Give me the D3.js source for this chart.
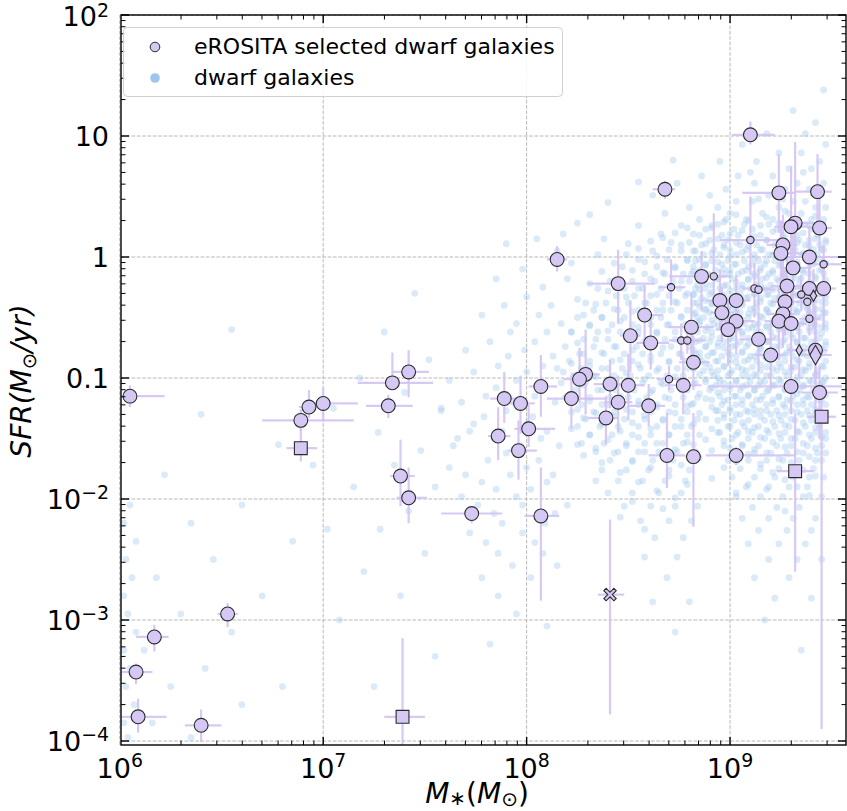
<!DOCTYPE html>
<html><head><meta charset="utf-8">
<script src="https://cdn.jsdelivr.net/npm/d3@7"></script>
<style>body{margin:0;background:#fff}svg{display:block}</style>
</head><body><svg id="c" width="847" height="811"></svg>
<script>
// ---------- DATA (log10 values) ----------
// eROSITA selected dwarf galaxies
const erLogM   = [6.05,6.89,6.93,7.00,6.89,7.34,7.42,7.32,7.38,7.42,6.53,6.17,6.08,6.09,6.40,7.39,8.15,8.45,7.89,7.97,8.07,8.01,7.86,7.96,7.73,8.07,8.22,8.71,8.58,8.51,8.61,8.81,8.76,8.79,8.82,8.29,8.26,8.41,8.50,8.70,8.77,8.45,8.60,8.39,8.68,8.86,8.92,8.95,9.03,8.96,9.03,8.99,9.12,9.14,9.10,9.24,9.43,9.32,9.30,9.44,9.10,9.26,9.25,9.39,9.46,9.31,9.28,9.46,9.39,9.35,9.38,9.41,9.27,9.26,9.24,9.30,9.39,9.14,9.20,9.34,9.42,9.42,9.30,9.44,9.45,8.69,8.82,9.03,9.32,8.41];
const erLogSFR = [-1.15,-1.35,-1.24,-1.21,-1.58,-1.04,-0.95,-1.23,-1.81,-1.99,-2.95,-3.14,-3.43,-3.80,-3.87,-3.80,-0.02,-0.22,-1.17,-1.21,-1.07,-1.42,-1.48,-1.60,-2.12,-2.14,-1.17,-0.25,-0.48,-0.65,-0.71,-0.58,-0.69,-0.69,-0.87,-0.97,-1.01,-1.05,-1.06,-1.01,-1.06,-1.20,-1.23,-1.33,0.56,-0.16,-0.16,-0.36,-0.36,-0.46,-0.53,-0.60,-0.26,-0.27,1.01,0.53,0.54,0.28,0.25,0.24,0.14,0.10,0.03,0.00,-0.06,-0.09,-0.24,-0.26,-0.26,-0.31,-0.37,-0.32,-0.37,-0.47,-0.53,-0.55,-0.51,-0.68,-0.81,-0.77,-0.77,-0.81,-1.07,-1.12,-1.32,-1.64,-1.65,-1.64,-1.77,-2.79];
// error bars: [low, high] in log10
const erMassErr = [[6.01,6.22],[6.70,7.15],[6.88,6.98],[6.94,7.17],[6.82,6.97],[7.17,7.54],[7.34,7.52],[7.21,7.44],[7.33,7.45],[7.36,7.51],[6.48,6.58],[6.08,6.24],[6.01,6.16],[6.01,6.23],[6.32,6.50],[7.30,7.50],[8.10,8.20],[8.30,8.63],[7.82,7.97],[7.92,8.04],[8.01,8.15],[7.94,8.14],[7.81,7.92],[7.91,8.05],[7.58,7.88],[7.99,8.16],[8.10,8.39],[8.65,8.78],[8.55,8.67],[8.46,8.56],[8.54,8.70],[8.70,8.92],[8.70,8.85],[8.74,8.88],[8.75,8.90],[8.22,8.36],[8.18,8.32],[8.33,8.50],[8.44,8.58],[8.64,8.76],[8.68,8.86],[8.38,8.52],[8.50,8.68],[8.30,8.45],[8.62,8.73],[8.70,9.00],[8.85,8.98],[8.88,9.05],[8.95,9.10],[8.90,9.02],[8.96,9.12],[8.93,9.06],[9.06,9.20],[9.09,9.22],[9.01,9.22],[9.06,9.32],[9.32,9.50],[9.24,9.47],[9.22,9.40],[9.38,9.50],[8.95,9.28],[9.18,9.33],[9.20,9.35],[9.22,9.57],[9.40,9.55],[9.25,9.40],[9.20,9.36],[9.40,9.52],[9.32,9.45],[9.30,9.41],[9.33,9.43],[9.36,9.46],[9.20,9.34],[9.18,9.32],[9.17,9.30],[9.22,9.38],[9.34,9.44],[9.05,9.22],[9.12,9.27],[9.28,9.40],[9.36,9.48],[9.35,9.50],[8.89,9.55],[9.35,9.53],[9.38,9.52],[8.60,8.78],[8.78,8.86],[8.88,9.32],[9.23,9.41],[8.35,8.48]];
const erSfrErr = [[-1.24,-1.06],[-1.44,-1.26],[-1.33,-1.10],[-1.36,-1.08],[-1.69,-1.28],[-1.08,-0.79],[-1.16,-0.77],[-1.33,-1.14],[-2.06,-1.51],[-2.20,-1.74],[-3.06,-2.86],[-3.26,-3.04],[-3.53,-3.36],[-3.93,-3.65],[-4.01,-3.74],[-4.20,-3.15],[-0.12,0.09],[-0.55,0.06],[-1.37,-0.95],[-1.46,-0.98],[-1.32,-0.81],[-1.57,-1.22],[-1.68,-1.24],[-1.84,-1.35],[-2.20,-2.06],[-2.84,-1.74],[-1.42,-0.98],[-0.40,-0.02],[-0.74,-0.23],[-0.95,-0.36],[-0.93,-0.49],[-0.85,-0.30],[-0.85,-0.55],[-0.80,-0.58],[-1.10,-0.65],[-1.30,-0.60],[-1.20,-0.75],[-1.25,-0.85],[-1.35,-0.80],[-1.10,-0.90],[-1.30,-0.82],[-1.45,-0.98],[-1.40,-1.05],[-1.55,-1.15],[0.48,0.63],[-0.45,0.05],[-0.40,0.36],[-0.60,-0.10],[-0.55,-0.15],[-0.70,-0.25],[-0.80,-0.30],[-0.90,-0.35],[-0.50,-0.05],[-0.45,-0.10],[0.93,1.12],[0.20,0.85],[0.25,0.85],[0.00,0.95],[-0.10,0.75],[0.05,0.60],[-0.15,0.50],[-0.20,0.35],[-0.25,0.30],[-0.30,0.25],[-0.20,0.10],[-0.40,0.20],[-0.55,0.05],[-0.60,0.00],[-0.50,-0.05],[-0.45,-0.15],[-0.50,-0.25],[-0.60,-0.10],[-0.65,-0.10],[-0.75,-0.20],[-0.85,-0.25],[-0.90,-0.20],[-0.65,-0.40],[-0.95,-0.45],[-1.10,-0.55],[-1.00,-0.55],[-1.05,-0.50],[-1.30,-0.40],[-1.30,-0.85],[-1.50,-0.90],[-3.90,-1.10],[-1.91,-1.29],[-2.23,-1.29],[-1.72,-1.57],[-2.60,-1.30],[-3.78,-2.17]];
// marker class: c = circle, cs = small circle, s = square, d = diamond, ds = small diamond, x = cross
const erKind = ["c","c","c","c","s","c","c","c","c","c","c","c","c","c","c","s","c","c","c","c","c","c","c","c","c","c","c","cs","c","c","c","c","cs","cs","c","c","c","c","c","cs","c","c","c","c","c","c","cs","c","c","c","c","c","cs","cs","c","c","c","c","c","c","cs","c","c","c","cs","c","c","c","c","cs","cs","ds","c","c","c","c","cs","c","c","ds","c","d","c","c","s","c","c","c","s","x"];

// background dwarf galaxies, rows: [log SFR, [log M*, ...]]
const bgUpper = [
[1.38,[9.46]],[1.21,[9.31]],[1.11,[9.42]],[1.02,[9.18,9.37]],[0.93,[9.06,9.47]],[0.86,[9.24,9.35]],
[0.79,[8.95,9.13,9.44]],[0.73,[9.29,9.40]],[0.67,[8.86,9.04,9.21]],[0.61,[8.74,9.12,9.33,9.46]],
[0.56,[8.98,9.27,9.39]],[0.51,[8.62,8.90,9.19,9.44]],[0.46,[9.03,9.11,9.31,9.37]],
[0.41,[8.80,8.94,9.24,9.42,9.47]],[0.36,[8.68,9.00,9.16,9.29,9.35]],[0.31,[8.85,8.98,9.08,9.21,9.40,9.46]],
[0.26,[8.55,8.76,8.91]],[0.19,[8.66,8.82,8.18]],[0.35,[8.31]],[0.11,[8.50,7.90]],[0.02,[8.35]],[-0.05,[8.22]],
[0.45,[8.40]],[0.62,[8.55]],[0.80,[8.72]],[0.28,[8.25]],[0.15,[8.05,8.38]],[0.05,[8.15]],[0.70,[9.10,9.36]],[0.48,[9.14,9.26]]];
const bgCore = [
[0.27,[8.94,9.07,9.19,9.28,9.37,9.45]],[0.23,[8.88,9.02,9.11,9.23,9.31,9.41,9.46]],
[0.18,[8.96,9.04,9.15,9.26,9.33,9.43]],[0.14,[8.90,8.99,9.09,9.18,9.25,9.34,9.39,9.47]],
[0.10,[8.86,8.97,9.05,9.13,9.22,9.28,9.37,9.44]],[0.06,[8.92,9.00,9.08,9.16,9.26,9.32,9.41,9.46]],
[0.02,[8.87,8.95,9.03,9.12,9.19,9.27,9.35,9.43]],[-0.03,[8.83,8.91,8.99,9.07,9.14,9.22,9.30,9.38,9.45]],
[-0.06,[8.88,8.96,9.02,9.11,9.17,9.25,9.33,9.41,9.47]],[-0.11,[8.85,8.93,9.00,9.08,9.15,9.21,9.29,9.36,9.44]],
[-0.14,[8.81,8.89,8.97,9.04,9.12,9.19,9.26,9.31,9.39,9.46]],[-0.18,[8.86,8.94,9.01,9.09,9.16,9.23,9.29,9.35,9.42]],
[-0.23,[8.84,8.91,8.98,9.06,9.13,9.20,9.27,9.34,9.40,9.47]],[-0.26,[8.88,8.95,9.03,9.10,9.17,9.24,9.31,9.37,9.44]],
[-0.31,[8.82,8.90,8.97,9.05,9.12,9.19,9.26,9.33,9.39,9.46]],[-0.34,[8.86,8.93,9.00,9.08,9.15,9.22,9.29,9.36,9.42]],
[-0.38,[8.84,8.91,8.99,9.06,9.13,9.20,9.27,9.34,9.41,9.47]],[-0.43,[8.88,8.96,9.03,9.10,9.18,9.25,9.32,9.38,9.45]],
[-0.46,[8.83,8.90,8.98,9.05,9.12,9.19,9.26,9.33,9.40,9.46]],[-0.50,[8.87,8.94,9.01,9.09,9.16,9.23,9.30,9.37,9.43]],
[-0.55,[8.85,8.92,8.99,9.07,9.14,9.21,9.28,9.35,9.41,9.47]],[-0.58,[8.89,8.96,9.04,9.11,9.18,9.25,9.32,9.39,9.45]],
[-0.62,[8.84,8.91,8.98,9.06,9.13,9.20,9.27,9.34,9.42]],[-0.67,[8.87,8.95,9.02,9.09,9.16,9.23,9.31,9.37,9.44]],
[-0.70,[8.83,8.90,8.97,9.05,9.12,9.19,9.26,9.33,9.40,9.47]],[-0.74,[8.88,8.94,9.01,9.08,9.15,9.22,9.29,9.36,9.43]],
[-0.79,[8.85,8.92,8.99,9.06,9.14,9.21,9.28,9.35,9.41,9.46]],[-0.82,[8.89,8.96,9.03,9.10,9.17,9.24,9.31,9.38,9.44]],
[-0.86,[8.86,8.93,9.00,9.07,9.13,9.20,9.27,9.34,9.42]],[-0.91,[8.90,8.97,9.04,9.11,9.18,9.25,9.32,9.39,9.46]],
[-0.94,[8.87,8.94,9.01,9.08,9.15,9.23,9.30,9.37,9.43]],[-0.98,[8.92,8.99,9.06,9.13,9.20,9.28,9.35,9.42]],
[-1.03,[8.88,8.95,9.03,9.10,9.17,9.25,9.33,9.40,9.46]],[-1.06,[8.93,9.00,9.08,9.14,9.22,9.29,9.36,9.44]],
[-1.10,[8.90,8.97,9.05,9.12,9.19,9.27,9.34,9.41]],[-1.15,[8.95,9.02,9.09,9.16,9.24,9.31,9.38,9.45]],
[-1.18,[8.91,8.99,9.06,9.13,9.21,9.28,9.36,9.43]],[-1.22,[8.96,9.03,9.11,9.18,9.26,9.33,9.40,9.47]],
[-1.27,[8.93,9.00,9.08,9.15,9.23,9.30,9.38,9.44]],[-1.30,[8.97,9.05,9.12,9.20,9.27,9.35,9.42]],
[-1.35,[8.94,9.02,9.09,9.17,9.25,9.32,9.40,9.46]],[-1.40,[8.99,9.07,9.14,9.22,9.29,9.37,9.44]],
[-1.45,[8.95,9.04,9.11,9.19,9.27,9.34,9.42]],[-1.50,[9.01,9.09,9.17,9.25,9.32,9.40,9.47]],
[-1.56,[8.97,9.06,9.14,9.23,9.30,9.38,9.45]],[-1.62,[9.03,9.12,9.20,9.28,9.36,9.43]],
[-1.68,[8.99,9.09,9.18,9.26,9.34,9.42]],[-1.75,[9.05,9.15,9.24,9.33,9.41]],
[-1.82,[9.01,9.12,9.22,9.31,9.39,9.46]],[-1.90,[9.08,9.19,9.29,9.38]],[-1.98,[9.03,9.15,9.26,9.36,9.45]],
[-2.07,[9.11,9.23,9.34]],[-2.16,[9.06,9.19,9.31,9.42]],[-2.26,[9.14,9.28,9.40]],
[-2.37,[9.09,9.24,9.37]],[-2.50,[9.19,9.33,9.45]],[-2.65,[9.12,9.29]],[-2.82,[9.22,9.40]],
[-3.00,[9.17]],[-3.25,[9.35]]];
// columns: [log M*, [log SFR, ...]]
const bgCoreCols = [
[8.82,[0.05,-0.12,-0.31,-0.47,-0.58,-0.77,-0.92,-1.05,-1.21,-1.38,-1.55]],
[8.85,[0.18,-0.02,-0.19,-0.27,-0.41,-0.53,-0.69,-0.83,-0.97,-1.13,-1.29,-1.47,-1.66]],
[8.88,[0.11,-0.07,-0.22,-0.36,-0.44,-0.61,-0.74,-0.88,-1.01,-1.17,-1.34,-1.51]],
[8.91,[0.24,0.03,-0.15,-0.29,-0.39,-0.52,-0.66,-0.79,-0.95,-1.08,-1.24,-1.42,-1.60,-1.83]],
[8.94,[0.15,-0.04,-0.18,-0.33,-0.48,-0.57,-0.71,-0.86,-1.00,-1.12,-1.27,-1.45]],
[8.97,[0.29,0.08,-0.10,-0.24,-0.37,-0.50,-0.63,-0.75,-0.90,-1.04,-1.19,-1.33,-1.52,-1.74]],
[9.00,[0.19,0.01,-0.14,-0.28,-0.43,-0.55,-0.68,-0.81,-0.96,-1.09,-1.25,-1.40,-1.58]],
[9.03,[0.35,0.12,-0.06,-0.21,-0.35,-0.46,-0.60,-0.73,-0.87,-1.02,-1.15,-1.30,-1.47,-1.69,-1.95]],
[9.06,[0.22,0.04,-0.12,-0.26,-0.40,-0.52,-0.64,-0.78,-0.93,-1.07,-1.22,-1.37,-1.55]],
[9.09,[0.30,0.09,-0.08,-0.19,-0.33,-0.47,-0.59,-0.72,-0.85,-0.99,-1.14,-1.28,-1.44,-1.63,-1.88]],
[9.12,[0.17,-0.01,-0.16,-0.30,-0.42,-0.56,-0.69,-0.82,-0.97,-1.10,-1.26,-1.41,-1.59]],
[9.15,[0.26,0.06,-0.09,-0.23,-0.37,-0.49,-0.62,-0.76,-0.89,-1.03,-1.18,-1.32,-1.49,-1.71]],
[9.18,[0.33,0.14,-0.03,-0.17,-0.31,-0.44,-0.57,-0.70,-0.84,-0.98,-1.11,-1.27,-1.43,-1.62,-1.92]],
[9.21,[0.21,0.02,-0.13,-0.27,-0.39,-0.53,-0.66,-0.79,-0.92,-1.06,-1.21,-1.36,-1.53,-1.78]],
[9.24,[0.28,0.10,-0.07,-0.20,-0.34,-0.48,-0.60,-0.74,-0.88,-1.01,-1.16,-1.31,-1.46,-1.67]],
[9.27,[0.38,0.16,-0.01,-0.15,-0.28,-0.42,-0.55,-0.68,-0.81,-0.95,-1.09,-1.24,-1.39,-1.57,-1.84,-2.10]],
[9.30,[0.24,0.05,-0.11,-0.25,-0.38,-0.51,-0.64,-0.77,-0.91,-1.05,-1.19,-1.34,-1.50,-1.70]],
[9.33,[0.31,0.12,-0.04,-0.18,-0.32,-0.45,-0.58,-0.71,-0.85,-0.99,-1.13,-1.28,-1.44,-1.61,-1.90]],
[9.36,[0.20,0.03,-0.13,-0.26,-0.40,-0.54,-0.67,-0.80,-0.93,-1.07,-1.22,-1.37,-1.54,-1.76]],
[9.39,[0.27,0.09,-0.06,-0.21,-0.35,-0.47,-0.61,-0.75,-0.88,-1.02,-1.16,-1.31,-1.47,-1.65,-1.97]],
[9.42,[0.34,0.15,-0.02,-0.16,-0.29,-0.43,-0.56,-0.70,-0.83,-0.97,-1.11,-1.26,-1.41,-1.58,-1.81]],
[9.45,[0.22,0.06,-0.10,-0.24,-0.37,-0.50,-0.63,-0.76,-0.90,-1.04,-1.18,-1.33,-1.49,-1.68]],
[9.47,[0.12,-0.05,-0.19,-0.33,-0.46,-0.59,-0.73,-0.86,-1.00,-1.14,-1.29,-1.45,-1.62]]];
const bgMid = [
[0.12,[8.71,8.80]],[0.05,[8.62,8.76,8.83]],[-0.02,[8.55,8.69,8.79]],[-0.08,[8.47,8.64,8.73,8.82]],
[-0.14,[8.58,8.68,8.77,8.84]],[-0.20,[8.41,8.52,8.63,8.72,8.80]],[-0.26,[8.35,8.48,8.57,8.66,8.75,8.83]],
[-0.32,[8.44,8.53,8.61,8.70,8.78]],[-0.38,[8.29,8.39,8.50,8.59,8.67,8.74,8.82]],
[-0.44,[8.33,8.45,8.55,8.64,8.71,8.79]],[-0.50,[8.25,8.37,8.48,8.58,8.66,8.76,8.84]],
[-0.56,[8.31,8.42,8.52,8.61,8.69,8.78]],[-0.62,[8.22,8.35,8.46,8.55,8.64,8.73,8.81]],
[-0.68,[8.28,8.40,8.50,8.59,8.68,8.77]],[-0.74,[8.19,8.33,8.44,8.54,8.62,8.71,8.80]],
[-0.80,[8.26,8.38,8.48,8.57,8.66,8.75,8.83]],[-0.86,[8.21,8.31,8.42,8.52,8.61,8.70,8.78]],
[-0.92,[8.15,8.27,8.37,8.47,8.56,8.65,8.74,8.82]],[-0.98,[8.23,8.33,8.43,8.51,8.60,8.69,8.77]],
[-1.04,[8.17,8.29,8.39,8.48,8.57,8.66,8.75,8.83]],[-1.10,[8.24,8.35,8.44,8.53,8.62,8.71,8.79]],
[-1.16,[8.19,8.31,8.41,8.50,8.59,8.68,8.77,8.84]],[-1.22,[8.27,8.37,8.46,8.55,8.64,8.73,8.81]],
[-1.28,[8.22,8.33,8.43,8.52,8.61,8.70,8.79]],[-1.34,[8.29,8.39,8.48,8.58,8.67,8.76,8.84]],
[-1.40,[8.25,8.36,8.45,8.55,8.64,8.73,8.81]],[-1.47,[8.31,8.42,8.52,8.61,8.70,8.79]],
[-1.54,[8.27,8.38,8.49,8.58,8.67,8.77]],[-1.61,[8.34,8.45,8.55,8.65,8.74,8.83]],
[-1.68,[8.41,8.52,8.62,8.72,8.81]],[-1.76,[8.37,8.49,8.60,8.70,8.80]],[-1.85,[8.45,8.57,8.68,8.78]],
[-1.95,[8.52,8.65,8.76]],[-2.06,[8.48,8.61,8.73,8.84]],[-2.18,[8.56,8.70,8.81]],[-2.32,[8.63,8.77]],
[-2.48,[8.58,8.74]],[-2.65,[8.69]],[-2.85,[8.62,8.80]],[-3.10,[8.73]]];
const bgMidCols = [
[8.22,[-0.62,-0.88,-1.15,-1.42]],[8.25,[-0.35,-0.71,-0.97,-1.26,-1.55]],[8.28,[-0.48,-0.80,-1.06,-1.33,-1.64]],
[8.31,[-0.22,-0.57,-0.90,-1.19,-1.47]],[8.34,[-0.39,-0.68,-0.99,-1.29,-1.58,-1.85]],
[8.37,[-0.12,-0.50,-0.79,-1.10,-1.38,-1.70]],[8.40,[-0.28,-0.61,-0.92,-1.22,-1.51,-1.95]],
[8.43,[-0.05,-0.43,-0.74,-1.03,-1.32,-1.62]],[8.46,[-0.19,-0.53,-0.85,-1.15,-1.44,-1.78,-2.15]],
[8.49,[0.02,-0.33,-0.66,-0.96,-1.26,-1.56]],[8.52,[-0.11,-0.45,-0.77,-1.08,-1.37,-1.69,-2.02]],
[8.55,[0.07,-0.26,-0.58,-0.89,-1.19,-1.49,-1.86]],[8.58,[-0.04,-0.38,-0.70,-1.01,-1.31,-1.61,-2.25]],
[8.61,[0.13,-0.18,-0.50,-0.82,-1.12,-1.42,-1.74]],[8.64,[0.01,-0.31,-0.63,-0.94,-1.24,-1.54,-1.93]],
[8.67,[0.16,-0.13,-0.44,-0.75,-1.05,-1.35,-1.66,-2.08]],[8.70,[0.06,-0.24,-0.56,-0.87,-1.17,-1.47,-1.81]],
[8.73,[0.20,-0.09,-0.37,-0.68,-0.99,-1.29,-1.59,-1.99]],[8.76,[0.10,-0.20,-0.49,-0.80,-1.10,-1.40,-1.72]],
[8.79,[0.24,-0.03,-0.30,-0.61,-0.92,-1.23,-1.53,-1.88]]];
const bgSparse = [
[-0.10,[7.98]],[-0.25,[8.08]],[-0.40,[7.89,8.12]],[-0.55,[7.95,8.17]],[-0.70,[7.82,8.04]],
[-0.82,[7.91,8.13]],[-0.95,[7.74,8.00,8.18]],[-1.08,[7.85,8.08]],[-1.20,[7.68,7.94,8.14]],
[-1.32,[7.79,8.03]],[-1.44,[7.72,7.88,8.10]],[-1.56,[7.64,7.97,8.16]],[-1.68,[7.81,8.06]],
[-1.80,[7.70,7.92,8.13]],[-1.92,[7.85,8.02]],[-2.05,[7.76,7.98,8.20]],[-2.20,[7.88,8.09]],
[-2.36,[7.80,8.04]],[-2.55,[7.93,8.15]],[-2.80,[7.86]],[-3.05,[8.10]],
[-0.18,[7.85,8.20]],[-0.33,[8.00]],[-0.48,[7.78,8.06]],[-0.62,[7.92,8.10]],[-0.77,[7.70,7.99]],
[-0.90,[7.86,8.08]],[-1.02,[7.62,7.95]],[-1.15,[7.80,8.04]],[-1.27,[7.58,7.90]],[-1.38,[7.74,8.00]],
[-1.50,[7.66,7.84,8.07]],[-1.62,[7.90]],[-1.74,[7.62,8.00]],[-1.86,[7.78,8.10]],[-1.98,[7.68,7.95]],
[-2.12,[7.84,8.14]],[-2.28,[7.72,7.98]],[-2.45,[7.86,8.08]],[-2.65,[7.78,8.02]],[-2.95,[7.95]],[-3.20,[7.82]],
[-0.30,[7.45]],[-0.62,[7.30]],[-0.85,[7.52]],[-1.00,[7.18]],[-1.12,[7.40]],[-1.25,[7.05,7.58]],
[-1.45,[7.27]],[-1.60,[7.48]],[-1.72,[6.95,7.35]],[-1.90,[7.15,7.55]],[-2.10,[7.42]],
[-2.25,[7.02,7.28]],[-2.45,[7.50]],[-2.60,[7.20]],[-2.80,[7.38]],[-3.00,[7.08]],[-3.30,[7.55]],[-3.55,[7.25]]];
const bgLeft = [
[-0.60,[6.55]],[-1.30,[6.40]],[-1.55,[6.78]],[-1.80,[6.22]],[-2.05,[6.05,6.60]],[-2.20,[6.02,6.35]],
[-2.35,[6.08,6.85]],[-2.50,[6.03,6.46]],[-2.65,[6.06,6.18]],[-2.80,[6.02,6.70]],[-2.95,[6.04,6.30]],
[-3.10,[6.08,6.55]],[-3.25,[6.02,6.12]],[-3.40,[6.05,6.42]],[-3.55,[6.03,6.25,6.80]],
[-3.70,[6.07,6.60]],[-3.85,[6.02,6.16]],[-3.97,[6.04,6.35]]];

// axis ticks
const xTickExp = [6,7,8,9];
const yTicks = [[2,"10","2"],[1,"10",""],[0,"1",""],[-1,"0.1",""],[-2,"10","\u22122"],[-3,"10","\u22123"],[-4,"10","\u22124"]];
const legendLabels = ["eROSITA selected dwarf galaxies","dwarf galaxies"];

// ---------- DRAWING ----------
const L=121, R=846, T=15, B=745;
const svg=d3.select("#c");
const x=d3.scaleLog().domain([10**6.006,10**9.57]).range([L,R]);
const y=d3.scaleLog().domain([10**-4.033,10**2]).range([B,T]);
const FONT="DejaVu Sans, Liberation Sans, sans-serif";
const P=10;

const bgPts=[];
[bgUpper,bgCore,bgMid,bgSparse,bgLeft].forEach(set=>set.forEach(([s,ms])=>ms.forEach(m=>bgPts.push([P**m,P**s]))));
[bgCoreCols,bgMidCols].forEach(set=>set.forEach(([m,ss])=>ss.forEach(s=>bgPts.push([P**m,P**s]))));

svg.append("defs").append("clipPath").attr("id","clip").append("rect").attr("x",L).attr("y",T).attr("width",R-L).attr("height",B-T);

// grid
const g=svg.append("g");
const xMaj=xTickExp.map(e=>P**e);
const yMaj=yTicks.map(t=>P**t[0]);
g.selectAll(".gx").data(xMaj).join("line").attr("x1",d=>x(d)).attr("x2",d=>x(d)).attr("y1",T).attr("y2",B)
 .attr("stroke","#b0b0b0").attr("stroke-width",0.9).attr("stroke-dasharray","3.7,1.6");
g.selectAll(".gy").data(yMaj).join("line").attr("y1",d=>y(d)).attr("y2",d=>y(d)).attr("x1",L).attr("x2",R)
 .attr("stroke","#b0b0b0").attr("stroke-width",0.9).attr("stroke-dasharray","3.7,1.6");

const plot=svg.append("g").attr("clip-path","url(#clip)");
plot.selectAll(".bg").data(bgPts).join("circle").attr("cx",d=>x(d[0])).attr("cy",d=>y(d[1])).attr("r",3.4)
 .attr("fill","#9ec5f0").attr("fill-opacity",0.37);

const er=erLogM.map((m,i)=>({m:P**m,s:P**erLogSFR[i],ml:P**erMassErr[i][0],mh:P**erMassErr[i][1],sl:P**erSfrErr[i][0],sh:P**erSfrErr[i][1],k:erKind[i]}));
const EC="#d3c3f3";
plot.selectAll(".ex").data(er).join("line").attr("x1",d=>x(d.ml)).attr("x2",d=>x(d.mh)).attr("y1",d=>y(d.s)).attr("y2",d=>y(d.s))
 .attr("stroke",EC).attr("stroke-width",2.2).attr("stroke-opacity",0.9);
plot.selectAll(".ey").data(er).join("line").attr("y1",d=>y(d.sl)).attr("y2",d=>y(d.sh)).attr("x1",d=>x(d.m)).attr("x2",d=>x(d.m))
 .attr("stroke",EC).attr("stroke-width",2.2).attr("stroke-opacity",0.9);

const FILL="#d5c8f5", EDGE="#2b2b2b";
const sym={c:[d3.symbolCircle,150],cs:[d3.symbolCircle,42],s:[d3.symbolSquare,165],d:[d3.symbolDiamond,110],ds:[d3.symbolDiamond,36]};
function markerPath(k){
  if(k==="x"){
    const a=6.2,t=2.3;
    return `M${-a},${-a+t}L${-a+t},${-a}L0,${-t}L${a-t},${-a}L${a},${-a+t}L${t},0L${a},${a-t}L${a-t},${a}L0,${t}L${-a+t},${a}L${-a},${a-t}L${-t},0Z`;
  }
  return d3.symbol(sym[k][0],sym[k][1])();
}
plot.selectAll(".mk").data(er).join("path").attr("d",d=>markerPath(d.k))
 .attr("transform",d=>`translate(${x(d.m)},${y(d.s)})`)
 .attr("fill",FILL).attr("stroke",EDGE).attr("stroke-width",1.1);

// ticks (inward, all four sides)
const xMinor=[],yMinor=[];
for(let e=6;e<=9;e++)for(let k=2;k<=9;k++){const v=k*P**e; if(v<=x.domain()[1])xMinor.push(v);}
for(let e=-5;e<=1;e++)for(let k=2;k<=9;k++){const v=k*P**e; if(v>=y.domain()[0]&&v<=100)yMinor.push(v);}
const ax=svg.append("g").attr("stroke","#000");
function tk(vals,len,w,horiz){
  vals.forEach(v=>{
    if(horiz){const px=x(v); if(px<L-0.5||px>R+0.5)return;
      ax.append("line").attr("x1",px).attr("x2",px).attr("y1",B).attr("y2",B-len).attr("stroke-width",w);
      ax.append("line").attr("x1",px).attr("x2",px).attr("y1",T).attr("y2",T+len).attr("stroke-width",w);}
    else{const py=y(v);
      ax.append("line").attr("y1",py).attr("y2",py).attr("x1",L).attr("x2",L+len).attr("stroke-width",w);
      ax.append("line").attr("y1",py).attr("y2",py).attr("x1",R).attr("x2",R-len).attr("stroke-width",w);}
  });
}
tk(xMaj,8,1.4,true);tk(xMinor,4.5,1.0,true);tk(yMaj,8,1.4,false);tk(yMinor,4.5,1.0,false);
svg.append("rect").attr("x",L).attr("y",T).attr("width",R-L).attr("height",B-T).attr("fill","none").attr("stroke","#000").attr("stroke-width",1.4);

// tick labels
const TF=27;
const xl=svg.append("g").attr("font-family",FONT).attr("font-size",TF).attr("fill","#000");
xTickExp.forEach(e=>{
  const t=xl.append("text").attr("x",x(P**e)).attr("y",778).attr("text-anchor","middle");
  t.append("tspan").text("10");
  t.append("tspan").attr("dy",-11).attr("font-size",TF*0.7).text(String(e));
});
yTicks.forEach(([e,b,s])=>{
  const t=xl.append("text").attr("x",109).attr("y",y(P**e)+(e===2?11:9.5)).attr("text-anchor","end");
  t.append("tspan").text(b);
  if(s) t.append("tspan").attr("dy",-9.5).attr("font-size",TF*0.7).text(s);
});

// axis titles
const AF=28;
const yt=svg.append("text").attr("transform","translate(31,381) rotate(-90)").attr("text-anchor","middle")
 .attr("font-family",FONT).attr("font-size",AF).attr("font-style","italic");
yt.append("tspan").text("SFR(M");
yt.append("tspan").attr("font-size",AF*0.7).attr("font-style","normal").attr("dy",5).text("\u2299");
yt.append("tspan").attr("dy",-5).text("/yr)");
const xt=svg.append("text").attr("x",477).attr("y",803).attr("text-anchor","middle")
 .attr("font-family",FONT).attr("font-size",28).attr("font-style","italic");
xt.append("tspan").text("M");
xt.append("tspan").attr("font-size",20).attr("font-style","normal").attr("dy",2).text("\u2217");
xt.append("tspan").attr("dy",-2).attr("font-style","normal").text("(");
xt.append("tspan").text("M");
xt.append("tspan").attr("font-size",20).attr("font-style","normal").attr("dy",3).text("\u2299");
xt.append("tspan").attr("dy",-3).attr("font-style","normal").text(")");

// legend
const lg=svg.append("g");
lg.append("rect").attr("x",123.5).attr("y",27.5).attr("width",439).attr("height",69).attr("rx",4)
 .attr("fill","#fff").attr("fill-opacity",0.85).attr("stroke","#d0d0d0").attr("stroke-width",1);
lg.append("circle").attr("cx",155).attr("cy",47).attr("r",4.8).attr("fill",FILL).attr("stroke",EDGE).attr("stroke-width",1);
lg.append("circle").attr("cx",155).attr("cy",78).attr("r",4.8).attr("fill","#9ec5f0");
legendLabels.forEach((t,i)=>lg.append("text").attr("x",194).attr("y",54+i*31).attr("font-family",FONT).attr("font-size",22).text(t));
</script></body></html>
